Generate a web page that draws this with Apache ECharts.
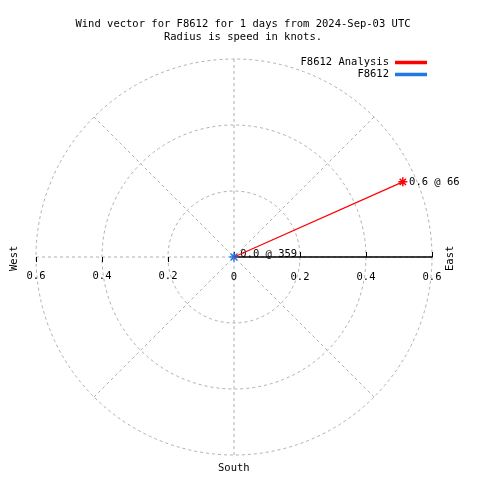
<!DOCTYPE html>
<html><head><meta charset="utf-8">
<script src="https://cdn.jsdelivr.net/npm/echarts@6/dist/echarts.min.js"></script>
<style>html,body{margin:0;padding:0;background:#fff}#c{width:480px;height:480px}</style>
</head><body><div id="c"></div>
<script>
const titleLines = ['Wind vector for F8612 for 1 days from 2024-Sep-03 UTC', 'Radius is speed in knots.'];
const seriesNames = ['F8612 Analysis', 'F8612'];
const seriesColors = ['#ff0000', '#1e78e6'];
const speeds = [0.56, 0.0];
const directions = [66, 359];
const radiusTicks = [0, 0.2, 0.4, 0.6];

const MONO = '"DejaVu Sans Mono", "Liberation Mono", monospace';
const FS = 10.5;
const C = [234, 257], R = 198;
const star = 'path://M0,-5L0,5M-5,0L5,0M-3.5,-3.5L3.5,3.5M-3.5,3.5L3.5,-3.5';

const chart = echarts.init(document.getElementById('c'), null, {renderer: 'canvas'});
const gridLine = {show: true, lineStyle: {color: '#b0b0b0', type: [3, 3], width: 1}};
const tickFmt = v => (v === 0 ? '0' : v.toFixed(1));
const option = {
  animation: false,
  backgroundColor: '#fff',
  title: {
    text: titleLines.join('\n'), left: 238, top: 13, textAlign: 'center',
    textStyle: {fontFamily: MONO, fontSize: FS, fontWeight: 'normal', color: '#000', lineHeight: 13}
  },
  legend: {
    orient: 'vertical', right: 48, top: 52, align: 'right', itemGap: 1,
    itemWidth: 30, itemHeight: 1.5, icon: 'rect',
    textStyle: {fontFamily: MONO, fontSize: FS, color: '#000', padding: [0, 2, 0, 0]},
    data: seriesNames.map((n, i) => ({name: n, itemStyle: {color: seriesColors[i]}}))
  },
  polar: [
    {center: C, radius: R},
    {center: C, radius: R},
    {center: C, radius: R}
  ],
  angleAxis: [
    {polarIndex: 0, type: 'value', min: 0, max: 360, interval: 45, startAngle: 0, clockwise: true,
     axisLine: {show: false}, axisTick: {show: false}, axisLabel: {show: false}, splitLine: gridLine},
    {polarIndex: 1, type: 'value', min: 0, max: 360, startAngle: 90, clockwise: true, show: false,
     axisLine: {show: false}, splitLine: {show: false}},
    {polarIndex: 2, type: 'value', min: 0, max: 360, startAngle: 180, clockwise: true,
     axisLine: {show: false}, axisTick: {show: false}, axisLabel: {show: false}, splitLine: {show: false}}
  ],
  radiusAxis: [
    {polarIndex: 0, min: radiusTicks[0], max: radiusTicks[radiusTicks.length - 1], interval: 0.2,
     axisLine: {lineStyle: {color: '#000', width: 1.5}}, axisTick: {lineStyle: {color: '#000'}, length: 5, inside: false},
     axisLabel: {fontFamily: MONO, fontSize: FS, color: '#000', margin: -26, formatter: tickFmt},
     splitLine: gridLine},
    {polarIndex: 1, min: 0, max: 0.6, show: false, splitLine: {show: false}},
    {polarIndex: 2, min: radiusTicks[0], max: radiusTicks[radiusTicks.length - 1], interval: 0.2,
     axisLine: {show: false}, axisTick: {lineStyle: {color: '#000'}, length: 5},
     axisLabel: {fontFamily: MONO, fontSize: FS, color: '#000', margin: 14, showMinLabel: false, formatter: tickFmt},
     splitLine: {show: false}}
  ],
  series: seriesNames.map((n, i) => ({
    name: n, type: 'line', coordinateSystem: 'polar', polarIndex: 1,
    color: seriesColors[i],
    lineStyle: {color: seriesColors[i], width: 1.2},
    symbol: star, symbolSize: 9,
    showSymbol: true,
    itemStyle: {color: 'rgba(0,0,0,0)', borderColor: seriesColors[i], borderWidth: 1.5},
    data: [
      {value: [0, directions[i]], symbol: 'none'},
      {value: [speeds[i], directions[i]],
       label: {show: true, position: 'right', distance: 1, offset: [0, i === 1 ? -3 : 0],
               fontFamily: MONO, fontSize: FS, color: '#000',
               formatter: () => speeds[i].toFixed(1) + ' @ ' + directions[i]}}
    ],
    z: 10 - i
  })),
  graphic: [
    {type: 'text', left: 218, top: 463, style: {text: 'South', font: FS + 'px ' + MONO, fill: '#000'}},
    {type: 'text', x: 9, y: 271, rotation: Math.PI / 2, style: {text: 'West', font: FS + 'px ' + MONO, fill: '#000'}},
    {type: 'text', x: 445, y: 271, rotation: Math.PI / 2, style: {text: 'East', font: FS + 'px ' + MONO, fill: '#000'}}
  ]
};
chart.setOption(option);
</script></body></html>
